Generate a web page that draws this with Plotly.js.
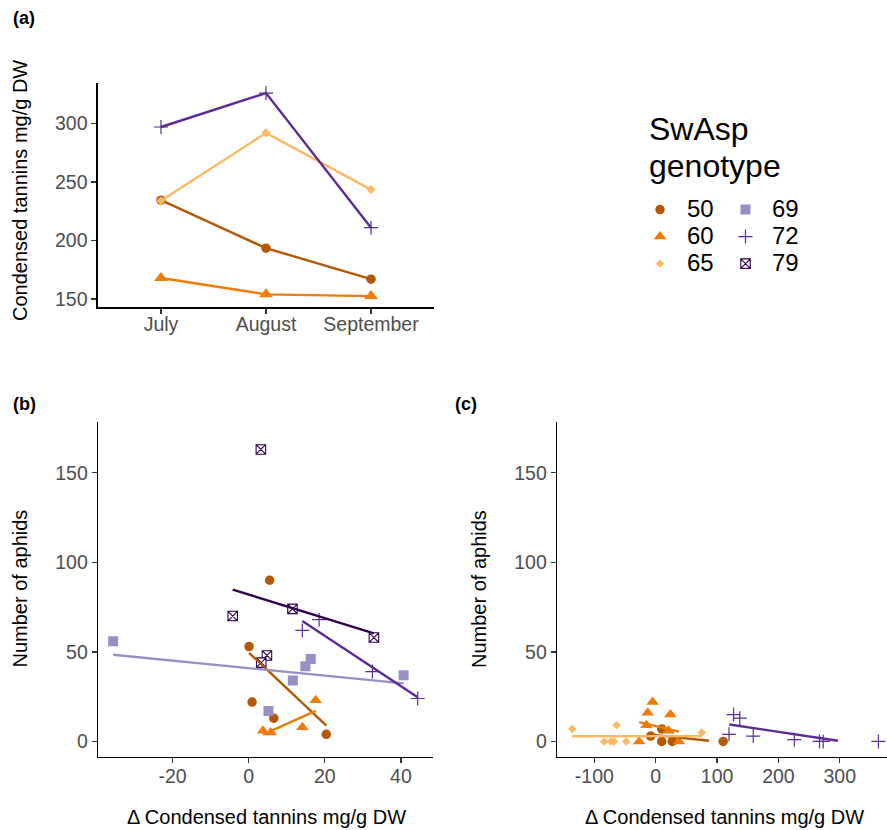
<!DOCTYPE html>
<html><head><meta charset="utf-8">
<script src="https://cdn.plot.ly/plotly-3.0.1.min.js"></script>
<style>body{margin:0;padding:0;background:#fff}</style>
</head><body><div id="chart" style="width:887px;height:830px"></div>
<script>
// ---------- DATA ----------
// Panel (a): condensed tannins by month
const months = ['July', 'August', 'September'];
const tanA_50 = [234.5, 193.5, 167];
const tanA_60 = [168, 154, 152.5];
const tanA_65 = [234, 292, 243.5];
const tanA_72 = [297, 326, 211];

// Panel (b): aphids vs delta tannins
const bX_50 = [5.5, 0.1, 0.9, 6.6, 20.4];
const bY_50 = [90, 53, 22, 13, 4];
const bX_60 = [3.75, 5.8, 14.1, 17.6];
const bY_60 = [6, 5, 8, 23];
const bX_69 = [-35.6, 5.2, 11.6, 14.9, 16.3, 40.7];
const bY_69 = [56, 17, 34, 42, 46, 37];
const bX_72 = [14.1, 18.5, 32.5, 44.4];
const bY_72 = [62, 68, 39, 24];
const bX_79 = [3.2, -4.2, 11.5, 32.9, 4.8, 3.3];
const bY_79 = [163, 70, 74, 58, 48, 44];
// fitted lines (b), end points
const bFitX_50 = [0.1, 20.4],  bFitY_50 = [49.5, 8.9];
const bFitX_60 = [3.75, 17.6], bFitY_60 = [3.8, 17.1];
const bFitX_69 = [-35.6, 40.7], bFitY_69 = [48.4, 32.4];
const bFitX_72 = [14.1, 44.4], bFitY_72 = [67.3, 24.7];
const bFitX_79 = [-4.2, 32.9], bFitY_79 = [84.8, 60.3];

// Panel (c)
const cX_50 = [-8.2, 9.8, 9.8, 27, 110];
const cY_50 = [3, 7, 0, 0, 0];
const cX_60 = [-5, -13, 24, -15, -27, 38, 21];
const cY_60 = [22, 16, 15, 9, 0, 0, 6];
const cX_65 = [-136, -64, -84, -73, -68, -48, 75];
const cY_65 = [7, 9, 0, 0, 0, 0, 5];
const cX_72 = [127, 137, 119.5, 159, 226, 267, 273, 363];
const cY_72 = [15, 13, 4, 3, 1, 0, 0, 0];
const cFitX_50 = [-8.2, 87],  cFitY_50 = [3.8, 0.4];
const cFitX_60 = [-27, 38],   cFitY_60 = [10.8, 5.5];
const cFitX_65 = [-136, 75],  cFitY_65 = [2.9, 3.0];
const cFitX_72 = [120, 297],  cFitY_72 = [9.5, 0.4];

// tick values / labels
const aTickVals = [150, 200, 250, 300];
const bcYTickVals = [0, 50, 100, 150];
const bXTickVals = [-20, 0, 20, 40];
const bXTickText = ['-20', '0', '20', '40'];
const cXTickVals = [-100, 0, 100, 200, 300];
const cXTickText = ['-100', '0', '100', '200', '300'];
const legendLabels = ['50', '60', '65', '69', '72', '79'];

// ---------- STYLE ----------
const COL = {g50:'#b35806', g60:'#f07b0a', g65:'#fdb863', g69:'#998ec3', g72:'#5a2a96', g79:'#2d004b'};
const MK = {
  g50: {symbol:'circle', size:9.5, color:COL.g50},
  g60: {symbol:'triangle-up', size:11, color:COL.g60},
  g65: {symbol:'diamond', size:6.5, color:COL.g65},
  g69: {symbol:'square', size:10, color:COL.g69},
  g72: {symbol:'cross-thin-open', size:10, color:COL.g72, line:{color:COL.g72, width:1.2}},
  g79: {symbol:'square-x', size:9.5, color:'#ffffff', line:{color:COL.g79, width:1.1}}
};
const LW = 2.4;
const W = 887, H = 830;
const px = v => v / W, py = v => 1 - v / H;
const lname = s => '<span style="font-size:24px">' + s + '</span>';

const traces = [];
// Panel a
[['g50', tanA_50], ['g60', tanA_60], ['g65', tanA_65], ['g72', tanA_72]].forEach(([g, ys]) => {
  traces.push({x: months, y: ys, xaxis:'x', yaxis:'y', mode:'lines+markers', type:'scatter',
    line:{color:COL[g], width:LW}, marker:Object.assign({}, MK[g], {size: g==='g60'?12:(g==='g65'?7:MK[g].size)}),
    showlegend:false, hoverinfo:'x+y'});
});
// Panel b points
const bSets = [['g50', bX_50, bY_50, 'legend', 1, legendLabels[0]], ['g60', bX_60, bY_60, 'legend', 2, legendLabels[1]],
  ['g69', bX_69, bY_69, 'legend2', 4, legendLabels[3]], ['g72', bX_72, bY_72, 'legend2', 5, legendLabels[4]],
  ['g79', bX_79, bY_79, 'legend2', 6, legendLabels[5]]];
bSets.forEach(([g, xs, ys, lg, rk, lab]) => {
  traces.push({x: xs, y: ys, xaxis:'x2', yaxis:'y2', mode:'markers', type:'scatter',
    marker: MK[g], name: lname(lab), legend: lg, legendrank: rk, showlegend: true});
});
// Panel b fits
[['g50', bFitX_50, bFitY_50], ['g60', bFitX_60, bFitY_60], ['g69', bFitX_69, bFitY_69],
 ['g72', bFitX_72, bFitY_72], ['g79', bFitX_79, bFitY_79]].forEach(([g, xs, ys]) => {
  traces.push({x: xs, y: ys, xaxis:'x2', yaxis:'y2', mode:'lines', type:'scatter',
    line:{color:COL[g], width:LW}, showlegend:false});
});
// Panel c points
[['g50', cX_50, cY_50], ['g60', cX_60, cY_60], ['g65', cX_65, cY_65], ['g72', cX_72, cY_72]].forEach(([g, xs, ys]) => {
  const t = {x: xs, y: ys, xaxis:'x3', yaxis:'y3', mode:'markers', type:'scatter', marker: MK[g], showlegend:false};
  if (g === 'g65') { t.showlegend = true; t.name = lname(legendLabels[2]); t.legend = 'legend'; t.legendrank = 3; }
  traces.push(t);
});
// Panel c fits
[['g50', cFitX_50, cFitY_50], ['g60', cFitX_60, cFitY_60], ['g65', cFitX_65, cFitY_65], ['g72', cFitX_72, cFitY_72]].forEach(([g, xs, ys]) => {
  traces.push({x: xs, y: ys, xaxis:'x3', yaxis:'y3', mode:'lines', type:'scatter',
    line:{color:COL[g], width:LW}, showlegend:false});
});

const FONT = 'Liberation Sans, Arial, Helvetica, sans-serif';
const tickFont = {family: FONT, size: 19.5, color: '#4d4d4d'};
const axBase = {showline:true, linecolor:'#000', linewidth:1.6, ticks:'outside', ticklen:5, tickwidth:1.2,
  tickcolor:'#333', showgrid:false, zeroline:false, tickfont: tickFont, fixedrange:true};

const layout = {
  width: W, height: H, autosize:false,
  margin:{l:0, r:0, t:0, b:0, pad:0},
  paper_bgcolor:'#fff', plot_bgcolor:'#fff',
  font:{family: FONT, color:'#000'},
  xaxis: Object.assign({}, axBase, {domain:[px(98), px(434)], anchor:'y', type:'category', range:[-0.6, 2.6], ticklabelstandoff:-6}),
  yaxis: Object.assign({}, axBase, {domain:[py(307), py(83)], anchor:'x', range:[143.2, 334.6], tickvals:aTickVals}),
  xaxis2: Object.assign({}, axBase, {domain:[px(98.3), px(433.3)], anchor:'y2', range:[-39.5, 48.5], tickvals:bXTickVals, ticktext:bXTickText, ticklabelstandoff:-4}),
  yaxis2: Object.assign({}, axBase, {domain:[py(756.7), py(421.7)], anchor:'x2', range:[-8.5, 178.5], tickvals:bcYTickVals}),
  xaxis3: Object.assign({}, axBase, {domain:[px(557.3), 1], anchor:'y3', range:[-160.4, 377], tickvals:cXTickVals, ticktext:cXTickText, ticklabelstandoff:-4}),
  yaxis3: Object.assign({}, axBase, {domain:[py(756.7), py(421.7)], anchor:'x3', range:[-8.5, 178.5], tickvals:bcYTickVals}),
  legend: {x: px(633), xanchor:'left', y: py(191), yanchor:'top', bgcolor:'rgba(0,0,0,0)', borderwidth:0,
    font:{family: FONT, size:18.5, color:'#000'}, itemwidth:44, traceorder:'normal'},
  legend2: {x: px(719), xanchor:'left', y: py(191), yanchor:'top', bgcolor:'rgba(0,0,0,0)', borderwidth:0,
    font:{family: FONT, size:18.5, color:'#000'}, itemwidth:43, traceorder:'normal'},
  annotations: [
    {text:'<b>(a)</b>', xref:'paper', yref:'paper', x:px(11), y:py(18), xanchor:'left', yanchor:'middle', showarrow:false, font:{size:18, color:'#000'}},
    {text:'<b>(b)</b>', xref:'paper', yref:'paper', x:px(11), y:py(404), xanchor:'left', yanchor:'middle', showarrow:false, font:{size:18, color:'#000'}},
    {text:'<b>(c)</b>', xref:'paper', yref:'paper', x:px(453), y:py(404), xanchor:'left', yanchor:'middle', showarrow:false, font:{size:18, color:'#000'}},
    {text:'Condensed tannins mg/g DW', xref:'paper', yref:'paper', x:px(20), y:py(191), textangle:-90, xanchor:'center', yanchor:'middle', showarrow:false, font:{size:20, color:'#000'}},
    {text:'Number of aphids', xref:'paper', yref:'paper', x:px(19.5), y:py(589), textangle:-90, xanchor:'center', yanchor:'middle', showarrow:false, font:{size:20, color:'#000'}},
    {text:'Δ Condensed tannins mg/g DW', xref:'paper', yref:'paper', x:px(266), y:py(816.5), xanchor:'center', yanchor:'middle', showarrow:false, font:{size:20, color:'#000'}},
    {text:'Number of aphids', xref:'paper', yref:'paper', x:px(479), y:py(589), textangle:-90, xanchor:'center', yanchor:'middle', showarrow:false, font:{size:20, color:'#000'}},
    {text:'Δ Condensed tannins mg/g DW', xref:'paper', yref:'paper', x:px(724.5), y:py(816.5), xanchor:'center', yanchor:'middle', showarrow:false, font:{size:20, color:'#000'}},
    {text:'SwAsp', xref:'paper', yref:'paper', x:px(647), y:py(129), xanchor:'left', yanchor:'middle', showarrow:false, font:{size:32, color:'#000'}},
    {text:'genotype', xref:'paper', yref:'paper', x:px(647), y:py(166), xanchor:'left', yanchor:'middle', showarrow:false, font:{size:32, color:'#000'}}
  ]
};

Plotly.newPlot('chart', traces, layout, {displayModeBar:false, staticPlot:true});
</script>
</body></html>
